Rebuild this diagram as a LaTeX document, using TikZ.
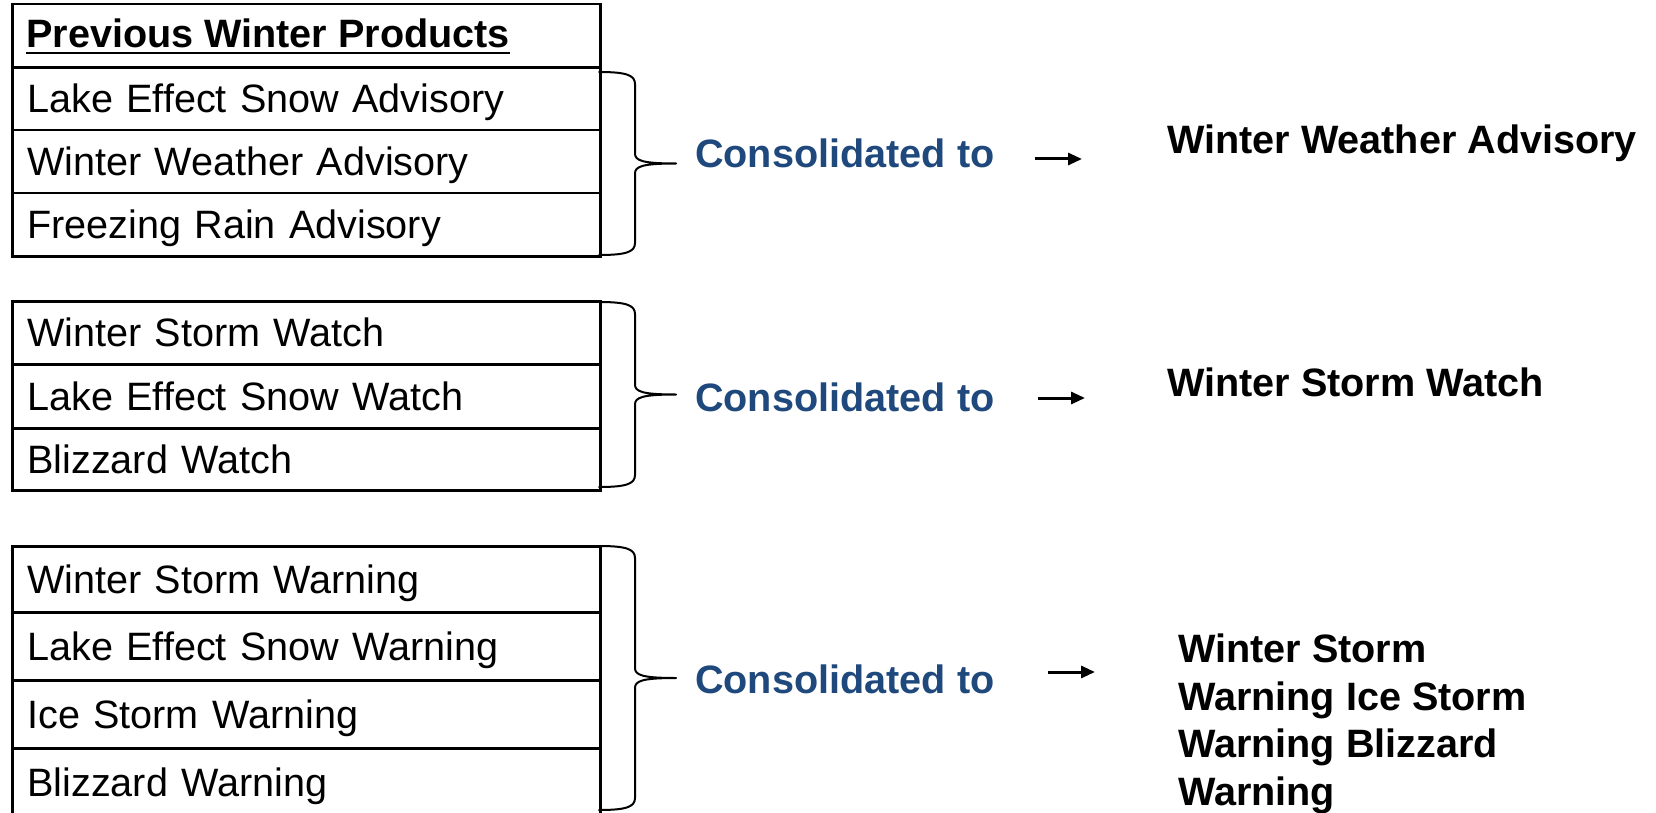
\documentclass[tikz,border=0pt]{standalone}
\usepackage{fontspec}
\setmainfont{Liberation Sans}
\usetikzlibrary{arrows.meta}
\definecolor{consblue}{HTML}{1F497D}
\newcommand\wbrace[2]{%
  \pgfmathsetmacro\bmid{(#1+#2)/2}%
  \draw[bracestyle] (599,#1) .. controls (626,#1) and (635,#1+3) .. (635,#1+12)
    -- (635,\bmid-10) .. controls (635,\bmid-3) and (642,\bmid) .. (676,\bmid)
    .. controls (642,\bmid) and (635,\bmid+3) .. (635,\bmid+10)
    -- (635,#2-12) .. controls (635,#2-3) and (626,#2) .. (599,#2);}
\begin{document}
\begin{tikzpicture}[x=1pt,y=-1pt,
  bigfont/.style={font=\fontsize{39.6}{47.5}\selectfont},
  row/.style={draw, line width=2.5pt, anchor=north west, minimum width=588pt,
    inner xsep=15pt, inner ysep=0pt, text width=558pt, align=left,
    text height=28.4pt, text depth=0pt, bigfont},
  bracestyle/.style={line width=2pt, line cap=round, line join=round},
  cons/.style={font=\fontsize{39.6}{47.5}\selectfont\bfseries, text=consblue, inner sep=0pt},
  res/.style={font=\fontsize{39.6}{47.5}\selectfont\bfseries, inner sep=0pt, align=left},
  arr/.style={line width=3pt, -{Triangle[length=14pt,width=12pt]}}]
\useasboundingbox (0,0) rectangle (1656,813);
\fill[white] (0,0) rectangle (1656,813);

% ---- table 1
\node[row, minimum height=64pt] (hdr) at (11,3) {};
\node[anchor=base west, inner sep=0pt, font=\fontsize{39.6}{47.5}\selectfont\bfseries] (htext) at (26,48) {Previous Winter Products};
\draw[line width=2.6pt] ([yshift=-5pt]htext.base west) -- ([yshift=-5pt]htext.base east);
\node[row, minimum height=63pt] (r11) at (11,66) {Lake Effect Snow Advisory};
\node[row, minimum height=63pt] (r12) at (11,129) {Winter Weather Advisory};
\node[row, minimum height=63pt] (r13) at (11,192) {Freezing Rain Advisory};
\wbrace{72}{255}

% ---- table 2
\node[row, minimum height=63pt] (r21) at (11,300) {Winter Storm Watch};
\node[row, minimum height=64pt] (r22) at (11,363) {Lake Effect Snow Watch};
\node[row, minimum height=62pt] (r23) at (11,427) {Blizzard Watch};
\wbrace{302}{487}

% ---- table 3
\node[row, minimum height=66pt] (r31) at (11,545) {Winter Storm Warning};
\node[row, minimum height=68pt] (r32) at (11,611) {Lake Effect Snow Warning};
\node[row, minimum height=68pt] (r33) at (11,679) {Ice Storm Warning};
\node[row, minimum height=68pt] (r34) at (11,747) {Blizzard Warning};
\wbrace{546}{810}

% ---- consolidated labels
\node[cons, anchor=base west] (c1) at (695,168) {Consolidated to};
\node[cons, anchor=base west] (c2) at (695,411) {Consolidated to};
\node[cons, anchor=base west] (c3) at (695,693) {Consolidated to};

% ---- arrows
\coordinate (a1s) at (1035,159); \coordinate (a1e) at (1082,159);
\coordinate (a2s) at (1038,398); \coordinate (a2e) at (1085,398);
\coordinate (a3s) at (1048,672); \coordinate (a3e) at (1095,672);
\draw[arr] (a1s) -- (a1e);
\draw[arr] (a2s) -- (a2e);
\draw[arr] (a3s) -- (a3e);

% ---- results
\node[res, anchor=base west] (o1) at (1167,154) {Winter Weather Advisory};
\node[res, anchor=base west] (o2) at (1167,396) {Winter Storm Watch};
\node[res, anchor=north west] (o3) at (1178,634) {Winter Storm\\Warning Ice Storm\\Warning Blizzard\\Warning};
\end{tikzpicture}
\end{document}
